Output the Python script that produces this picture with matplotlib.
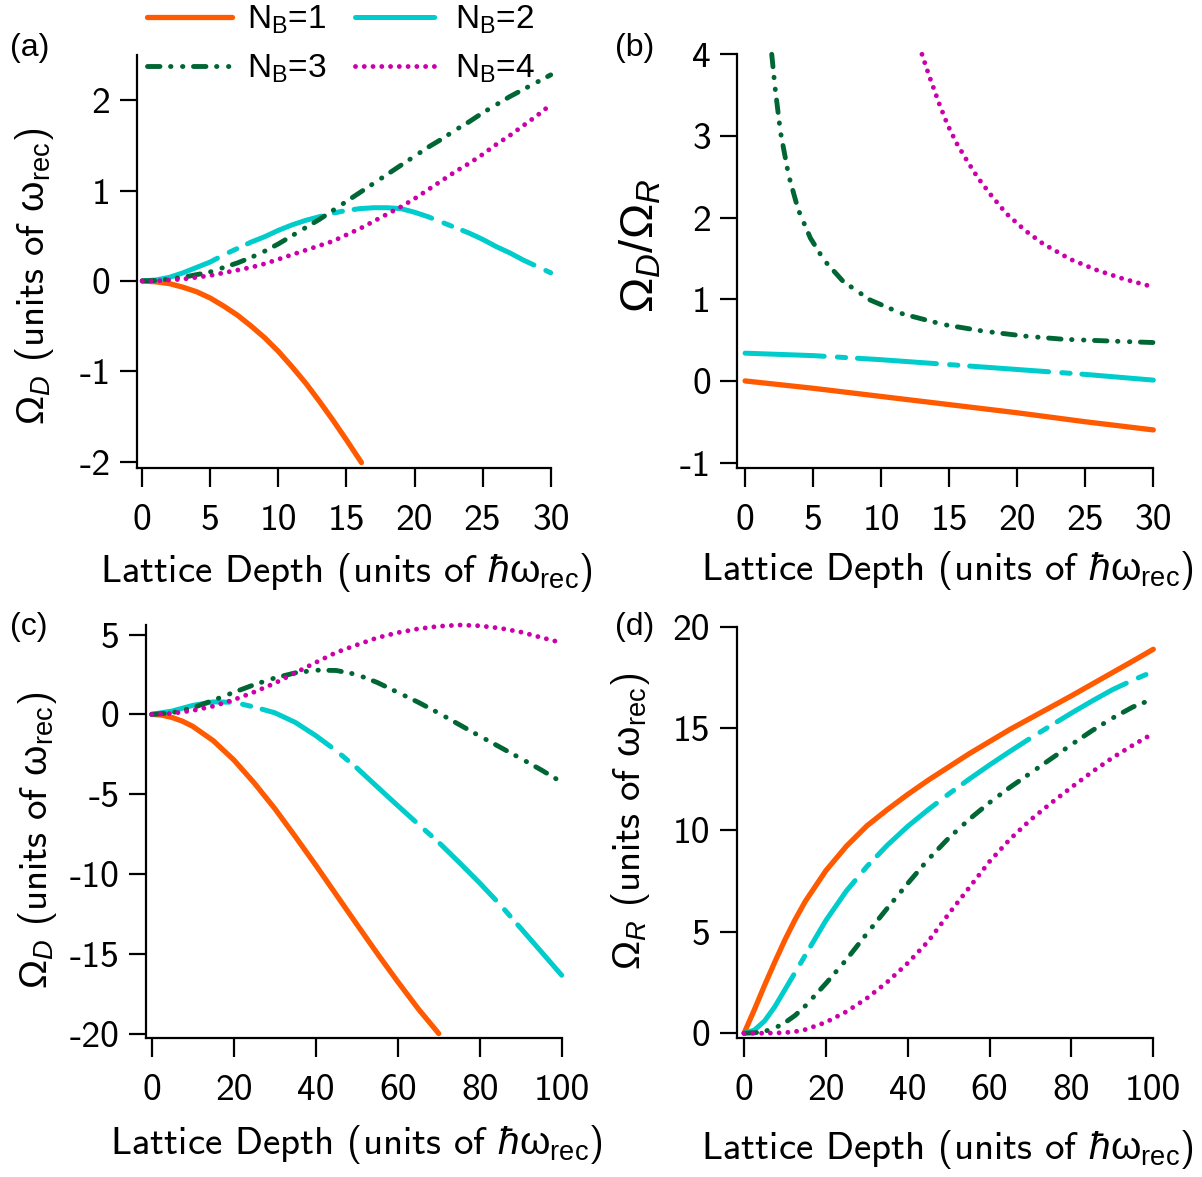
import matplotlib
matplotlib.use('Agg')
import matplotlib.pyplot as plt

plt.rcParams['font.family'] = 'cmss10'
plt.rcParams['axes.unicode_minus'] = False
plt.rcParams['mathtext.fontset'] = 'custom'
plt.rcParams['mathtext.rm'] = 'Liberation Sans'
plt.rcParams['mathtext.it'] = 'Liberation Sans:italic'
plt.rcParams['mathtext.bf'] = 'Liberation Sans:bold'
plt.rcParams['lines.scale_dashes'] = False

# ---- data ----
# (a) Omega_D vs lattice depth, 0..30
a_x = [0, 1, 2, 3, 4, 5, 6, 7, 8, 9, 10, 11, 12, 13, 14, 15, 16, 17, 18, 19, 20,
       21, 22, 23, 24, 25, 26, 27, 28, 29, 30]
a_nb1_x = [0, 1, 2, 3, 4, 5, 6, 7, 8, 9, 10, 11, 12, 13, 14, 15, 16.1]
a_nb1 = [0, -0.01, -0.03, -0.07, -0.12, -0.19, -0.28, -0.38, -0.5, -0.63, -0.78,
         -0.95, -1.13, -1.33, -1.54, -1.76, -2.01]
a_nb2 = [0, 0.01, 0.04, 0.09, 0.15, 0.21, 0.29, 0.36, 0.43, 0.49, 0.56, 0.62, 0.67,
         0.71, 0.75, 0.78, 0.80, 0.81, 0.81, 0.80, 0.76, 0.71, 0.65, 0.59, 0.53,
         0.46, 0.38, 0.31, 0.23, 0.16, 0.09]
a_nb3 = [0, 0.005, 0.02, 0.04, 0.07, 0.1, 0.15, 0.2, 0.26, 0.33, 0.41, 0.5, 0.59,
         0.68, 0.78, 0.88, 0.98, 1.08, 1.18, 1.28, 1.38, 1.48, 1.57, 1.67, 1.76,
         1.86, 1.95, 2.04, 2.12, 2.2, 2.28]
a_nb4 = [0, 0.0, 0.01, 0.02, 0.04, 0.06, 0.09, 0.12, 0.15, 0.19, 0.24, 0.29, 0.34,
         0.39, 0.44, 0.51, 0.58, 0.66, 0.74, 0.82, 0.91, 1.01, 1.11, 1.21, 1.3,
         1.4, 1.51, 1.61, 1.72, 1.83, 1.95]

# (b) Omega_D / Omega_R, 0..30
b_x = [0, 5, 10, 15, 20, 25, 30]
b_nb1 = [0, -0.09, -0.19, -0.29, -0.39, -0.5, -0.6]
b_nb2 = [0.34, 0.31, 0.26, 0.20, 0.14, 0.08, 0.01]
b_nb3_x = [1.96, 2.2, 2.6, 3.2, 3.9, 4.8, 5.8, 7.2, 9.2, 11.6, 14.6, 17.5, 20.5,
           23.4, 26.6, 30]
b_nb3 = [4.0, 3.6, 3.05, 2.52, 2.1, 1.75, 1.48, 1.22, 0.99, 0.82, 0.69, 0.61, 0.55,
         0.51, 0.49, 0.47]
b_nb4_x = [13.0, 13.5, 14.3, 14.9, 15.55, 16.3, 17.1, 18.1, 19.2, 20.6, 21.9, 23.9,
           25.8, 27.8, 30]
b_nb4 = [4.0, 3.75, 3.38, 3.13, 2.91, 2.7, 2.49, 2.27, 2.05, 1.84, 1.68, 1.49, 1.36,
         1.25, 1.15]

# (c) Omega_D vs lattice depth, 0..100
c_nb1_x = [0, 2.5, 5, 7.5, 10, 15, 20, 25, 30, 35, 40, 45, 50, 55, 60, 65, 70]
c_nb1 = [0, -0.05, -0.2, -0.43, -0.75, -1.65, -2.85, -4.3, -5.9, -7.65, -9.45,
         -11.3, -13.15, -14.98, -16.75, -18.45, -20.0]
c_x = [0, 5, 10, 15, 20, 25, 30, 35, 40, 45, 50, 55, 60, 65, 70, 75, 80, 85, 90, 95, 100]
c_nb2 = [0, 0.21, 0.56, 0.78, 0.76, 0.46, 0.1, -0.5, -1.33, -2.28, -3.35, -4.54,
         -5.72, -6.88, -8.02, -9.28, -10.57, -11.93, -13.4, -14.87, -16.35]
c_nb3 = [0, 0.1, 0.41, 0.88, 1.38, 1.86, 2.28, 2.6, 2.77, 2.75, 2.5, 2.0, 1.38,
         0.76, 0.08, -0.64, -1.36, -2.06, -2.76, -3.48, -4.25]
c_nb4_x = [0, 5, 10, 15, 20, 25, 30, 35, 40, 45, 50, 55, 60, 65, 70, 75, 80, 85, 90, 95, 99]
c_nb4 = [0, 0.06, 0.24, 0.51, 0.91, 1.4, 1.95, 2.6, 3.25, 3.88, 4.35, 4.8, 5.12,
         5.36, 5.52, 5.6, 5.55, 5.4, 5.16, 4.82, 4.55]

# (d) Omega_R vs lattice depth, 0..100
d_x = [0, 2.5, 5, 7.5, 10, 12.5, 15, 20, 25, 30, 35, 40, 45, 50, 55, 60, 65, 70,
       75, 80, 85, 90, 95, 100]
d_nb1 = [0, 1.15, 2.35, 3.5, 4.6, 5.6, 6.5, 8.0, 9.2, 10.2, 11.0, 11.75, 12.45,
         13.1, 13.75, 14.35, 14.95, 15.5, 16.05, 16.6, 17.17, 17.74, 18.31, 18.89]
d_nb2 = [0, 0.15, 0.6, 1.3, 2.15, 3.0, 3.85, 5.55, 7.0, 8.2, 9.25, 10.18, 11.0,
         11.77, 12.5, 13.2, 13.87, 14.52, 15.14, 15.75, 16.34, 16.9, 17.37, 17.8]
d_nb3 = [0, 0.02, 0.09, 0.25, 0.52, 0.88, 1.35, 2.45, 3.62, 4.9, 6.15, 7.37, 8.55,
         9.6, 10.52, 11.35, 12.1, 12.8, 13.5, 14.2, 14.88, 15.5, 16.05, 16.45]
d_nb4 = [0, 0.0, 0.0, 0.01, 0.03, 0.08, 0.18, 0.54, 1.06, 1.72, 2.52, 3.45, 4.52,
         5.87, 7.16, 8.45, 9.55, 10.5, 11.32, 12.1, 12.85, 13.55, 14.17, 14.75]

labels = ['N$_\\mathrm{B}$=1', 'N$_\\mathrm{B}$=2', 'N$_\\mathrm{B}$=3', 'N$_\\mathrm{B}$=4']

# line styles for the four band counts
styles = [
    dict(color='#FF5A00', lw=3.8, solid_capstyle='round'),
    dict(color='#00CCCC', lw=3.6, dashes=(57, 9.5, 6, 8.5), dash_capstyle='round'),
    dict(color='#006633', lw=3.5, dashes=(9, 7.6, 0.3, 8.3, 0.3, 7.6), dash_capstyle='round'),
    dict(color='#CC00AA', lw=3.5, dashes=(0.01, 6.3), dash_capstyle='round'),
]

W, H = 1202, 1177
fig = plt.figure(figsize=(W / 100, H / 100), dpi=100)


def px_axes(left, right, top, bottom):
    return fig.add_axes([left / W, 1 - bottom / H, (right - left) / W, (bottom - top) / H])


ax_a = px_axes(136.7, 550.7, 55, 468)
ax_b = px_axes(737.3, 1153.3, 54.3, 468.3)
ax_c = px_axes(146, 561.7, 625, 1038.3)
ax_d = px_axes(736.7, 1153.3, 626.7, 1038.3)

lines = []
for xs, ys, st in zip([a_nb1_x, a_x, a_x, a_x], [a_nb1, a_nb2, a_nb3, a_nb4], styles):
    lines += ax_a.plot(xs, ys, clip_on=False, **st)
for xs, ys, st in zip([b_x, b_x, b_nb3_x, b_nb4_x], [b_nb1, b_nb2, b_nb3, b_nb4], styles):
    ax_b.plot(xs, ys, clip_on=False, **st)
for xs, ys, st in zip([c_nb1_x, c_x, c_x, c_nb4_x], [c_nb1, c_nb2, c_nb3, c_nb4], styles):
    ax_c.plot(xs, ys, clip_on=False, **st)
for ys, st in zip([d_nb1, d_nb2, d_nb3, d_nb4], styles):
    ax_d.plot(d_x, ys, clip_on=False, **st)

ax_a.set_xlim(-0.41, 30); ax_a.set_ylim(-2.07, 2.5)
ax_b.set_xlim(-0.57, 30); ax_b.set_ylim(-1.07, 4.0)
ax_c.set_xlim(-1.4, 100); ax_c.set_ylim(-20.3, 5.6)
ax_d.set_xlim(-1.8, 100); ax_d.set_ylim(-0.25, 20)

ax_a.set_xticks(range(0, 31, 5)); ax_a.set_yticks(range(-2, 3))
ax_b.set_xticks(range(0, 31, 5)); ax_b.set_yticks(range(-1, 5))
ax_c.set_xticks(range(0, 101, 20)); ax_c.set_yticks(range(-20, 6, 5))
ax_d.set_xticks(range(0, 101, 20)); ax_d.set_yticks(range(0, 21, 5))

xlab = 'Lattice Depth (units of $\\hbar\\mathrm{\\omega}_{\\mathrm{rec}}$)'
ylab_D = '$\\Omega_{D}$ (units of $\\mathrm{\\omega}_{\\mathrm{rec}}$)'
ylab_R = '$\\Omega_{R}$ (units of $\\mathrm{\\omega}_{\\mathrm{rec}}$)'

for ax in (ax_a, ax_b, ax_c, ax_d):
    ax.spines['top'].set_visible(False)
    ax.spines['right'].set_visible(False)
    for s in ('left', 'bottom'):
        ax.spines[s].set_linewidth(1.6)
    ax.tick_params(axis='x', direction='out', length=14, width=1.6, pad=12, labelsize=27)
    ax.tick_params(axis='y', direction='out', length=12, width=1.6, pad=7, labelsize=27)
    ax.set_xlabel(xlab, fontsize=28, va='center')

ax_a.set_ylabel(ylab_D, fontsize=28, va='center')
ax_b.set_ylabel('$\\Omega_{D}/\\Omega_{R}$', fontsize=34, va='center')
ax_c.set_ylabel(ylab_D, fontsize=28, va='center')
ax_d.set_ylabel(ylab_R, fontsize=28, va='center')

ax_a.xaxis.set_label_coords(0.506, -0.252)
ax_b.xaxis.set_label_coords(0.506, -0.246)
ax_c.xaxis.set_label_coords(0.505, -0.258)
ax_d.xaxis.set_label_coords(0.506, -0.271)
ax_a.yaxis.set_label_coords(-0.248, 0.465)
ax_b.yaxis.set_label_coords(-0.234, 0.537)
ax_c.yaxis.set_label_coords(-0.26, 0.48)
ax_d.yaxis.set_label_coords(-0.256, 0.526)

for lab, (px, py) in zip(['(a)', '(b)', '(c)', '(d)'],
                         [(10, 48), (615, 48), (10, 627), (615, 627)]):
    fig.text(px / W, 1 - py / H, lab, fontsize=23, family='Liberation Sans',
             ha='left', va='center')

# ncol=2 fills by column, so reorder to get rows (1,2) and (3,4)
order = [0, 2, 1, 3]
fig.legend([lines[i] for i in order], [labels[i] for i in order],
           loc='upper left', bbox_to_anchor=(147 / W, 1 - 4 / H),
           ncol=2, frameon=False, prop={'family': 'Liberation Sans', 'size': 24},
           handlelength=2.55, handletextpad=0.45, columnspacing=0.85,
           labelspacing=0.5, borderpad=0, borderaxespad=0)

fig.savefig('out.png', dpi=100)
